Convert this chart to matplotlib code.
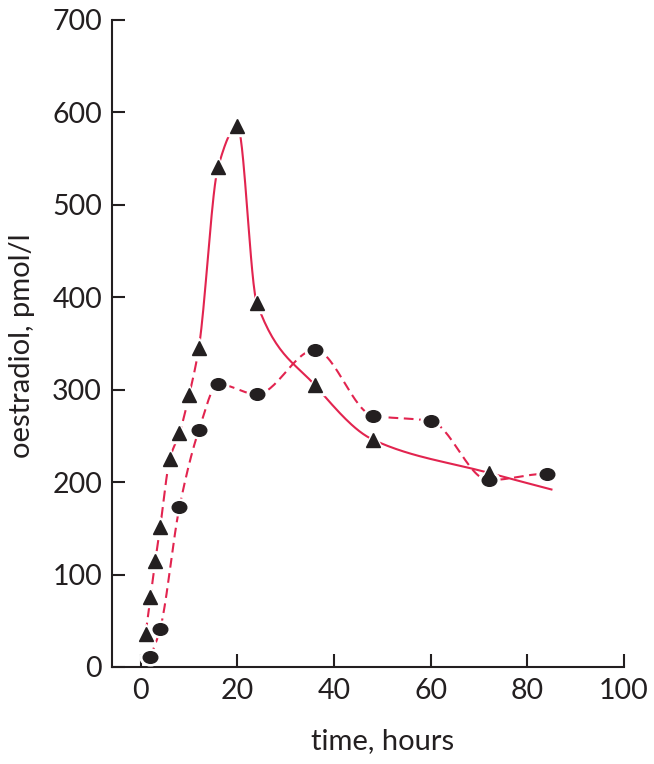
import numpy as np
import matplotlib
matplotlib.use("Agg")
import matplotlib.pyplot as plt
from matplotlib.path import Path
from matplotlib.transforms import Affine2D

# triangles (solid curve)
tri_x = [1, 2, 3, 4, 6, 8, 10, 12, 16, 20, 24, 36, 48, 72]
tri_y = [36, 76, 115, 151, 225, 253, 294, 345, 541, 585, 394, 305, 246, 210]
tri_end = (85, 192)   # where the drawn curve stops

# circles (dashed curve)
circ_x = [2, 4, 8, 12, 16, 24, 36, 48, 60, 72, 84]
circ_y = [11, 41, 173, 256, 306, 295, 343, 272, 266, 202, 209]
circ_end = (85.5, 198)

xticks = [0, 20, 40, 60, 80, 100]
yticks = [0, 100, 200, 300, 400, 500, 600, 700]

red = '#e2244f'
ink = '#231f20'

plt.rcParams['font.family'] = ['Lato', 'DejaVu Sans']
plt.rcParams['lines.scale_dashes'] = False


def smooth(x, y, n=30):
    # monotone cubic (pchip-like) through the points
    x = np.asarray(x, float)
    y = np.asarray(y, float)
    h = np.diff(x)
    d = np.diff(y) / h
    m = np.zeros_like(y)
    for k in range(1, len(x) - 1):
        if d[k-1] * d[k] > 0:
            w1 = 2*h[k] + h[k-1]
            w2 = h[k] + 2*h[k-1]
            m[k] = (w1 + w2) / (w1/d[k-1] + w2/d[k])
    m[0] = d[0]
    m[-1] = d[-1]
    xs, ys = [], []
    for i in range(len(x) - 1):
        t = np.linspace(0, 1, n, endpoint=False)
        h00 = 2*t**3 - 3*t**2 + 1
        h10 = t**3 - 2*t**2 + t
        h01 = -2*t**3 + 3*t**2
        h11 = t**3 - t**2
        xs.append(x[i] + t*h[i])
        ys.append(h00*y[i] + h10*h[i]*m[i] + h01*y[i+1] + h11*h[i]*m[i+1])
    xs.append([x[-1]])
    ys.append([y[-1]])
    return np.concatenate(xs), np.concatenate(ys)


fig = plt.figure(figsize=(6.54, 7.64), dpi=100)
ax = fig.add_axes([0.171, 0.127, 0.783, 0.847])

# triangle curve: dashed at the start, solid after 12 h
tx, ty = smooth(tri_x + [tri_end[0]], tri_y + [tri_end[1]])
cut = np.searchsorted(tx, 12) + 1
ax.plot(tx[:cut], ty[:cut], color=red, lw=1.5, dashes=(8, 4), zorder=2)
ax.plot(tx[cut - 1:], ty[cut - 1:], color=red, lw=1.5, zorder=2)

cx, cy = smooth(circ_x + [circ_end[0]], circ_y + [circ_end[1]])
ax.plot(cx, cy, color=red, lw=1.5, dashes=(7, 4), zorder=2)

ellipse = Path.unit_circle().transformed(Affine2D().scale(1, 0.8))

# white halo first so the curves stop short of the markers
ax.plot(circ_x, circ_y, ls='none', marker=ellipse, ms=15, color='white', zorder=3)
ax.plot(tri_x, tri_y, ls='none', marker='^', ms=14, color='white', zorder=3)
ax.plot(circ_x, circ_y, ls='none', marker=ellipse, ms=10.5, color=ink, zorder=4)
ax.plot(tri_x, tri_y, ls='none', marker='^', ms=10, color=ink, zorder=5)

ax.set_xlim(-6, 100)
ax.set_ylim(0, 700)
ax.set_xticks(xticks)
ax.set_yticks(yticks)

for s in ['top', 'right']:
    ax.spines[s].set_visible(False)
for s in ['left', 'bottom']:
    ax.spines[s].set_linewidth(1.5)
    ax.spines[s].set_color(ink)
ax.tick_params(direction='in', length=9.5, width=1.5, color=ink,
               labelsize=20.5, labelcolor=ink)
ax.tick_params(axis='x', pad=8)
ax.tick_params(axis='y', pad=7)

ax.text(-0.176, 0.496, 'oestradiol, pmol/l', transform=ax.transAxes,
        rotation=90, ha='center', va='center', fontsize=21, color=ink)
ax.text(0.529, -0.115, 'time, hours', transform=ax.transAxes,
        ha='center', va='center', fontsize=21, color=ink)

fig.savefig('out.png', dpi=100)
